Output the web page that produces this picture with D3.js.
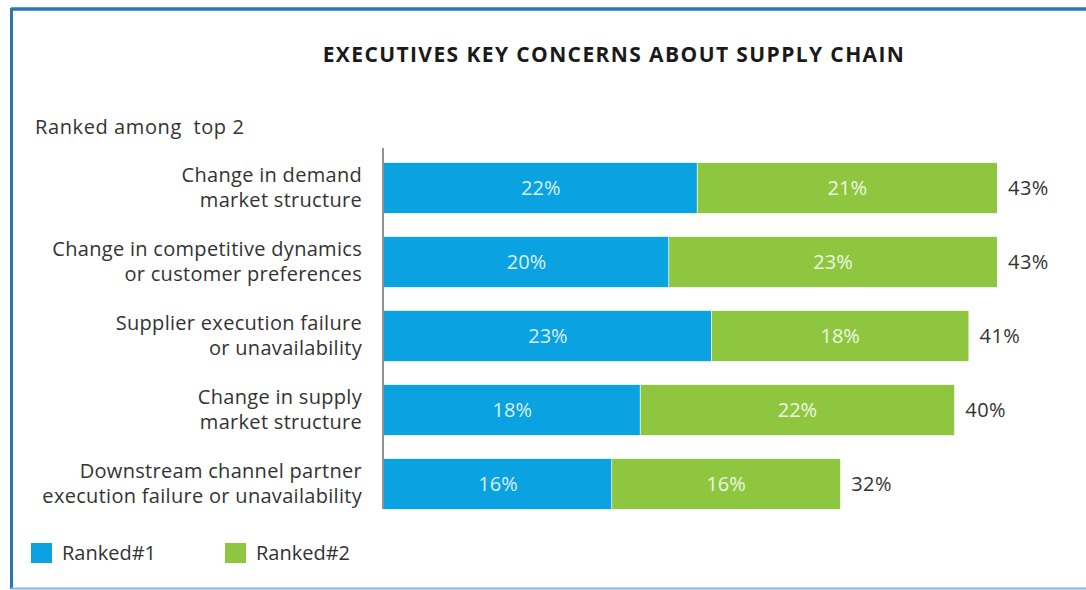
<!DOCTYPE html>
<html>
<head>
<meta charset="utf-8">
<script src="https://cdn.jsdelivr.net/npm/d3@7"></script>
<style>
  html, body { margin: 0; padding: 0; background: #fff; }
  svg { display: block; }
</style>
</head>
<body>
<svg id="chart" width="1086" height="590"></svg>
<script>
// Chart data
const categories = [
  ["Change in demand", "market structure"],
  ["Change in competitive dynamics", "or customer preferences"],
  ["Supplier execution failure", "or unavailability"],
  ["Change in supply", "market structure"],
  ["Downstream channel partner", "execution failure or unavailability"]
];
const ranked1 = [22, 20, 23, 18, 16];
const ranked2 = [21, 23, 18, 22, 16];
const totals = [43, 43, 41, 40, 32];
const seriesNames = ["Ranked#1", "Ranked#2"];

const colors = ["#0ba2e1", "#8fc640"];
const font = "'Open Sans', 'DejaVu Sans', sans-serif";

const svg = d3.select("#chart");
const W = 1086, H = 590;

// frame
svg.append("rect").attr("x", 0).attr("y", 0).attr("width", W).attr("height", H).attr("fill", "#fff");
svg.append("line").attr("x1", 11).attr("x2", W).attr("y1", 9).attr("y2", 9)
  .attr("stroke", "#2a78b3").attr("stroke-width", 3.5);
svg.append("line").attr("x1", 11.5).attr("x2", 11.5).attr("y1", 8).attr("y2", 589)
  .attr("stroke", "#2a78b3").attr("stroke-width", 3);
svg.append("line").attr("x1", 11).attr("x2", W).attr("y1", 588.5).attr("y2", 588.5)
  .attr("stroke", "#7fb9e3").attr("stroke-width", 2);

// title
svg.append("text")
  .attr("x", 614).attr("y", 62)
  .attr("text-anchor", "middle")
  .attr("font-family", font).attr("font-size", 21).attr("font-weight", "bold")
  .attr("letter-spacing", 1.4)
  .attr("fill", "#1a1a1a")
  .text("EXECUTIVES KEY CONCERNS ABOUT SUPPLY CHAIN");

svg.append("text")
  .attr("x", 35).attr("y", 134)
  .attr("font-family", font).attr("font-size", 20)
  .attr("letter-spacing", 0.6)
  .style("white-space", "pre")
  .attr("fill", "#333")
  .text("Ranked among  top 2");

// scales
const x0 = 384;
const x = d3.scaleLinear().domain([0, 43]).range([x0, 997]);
const y = d3.scaleBand().domain(d3.range(categories.length))
  .range([151, 521]).paddingInner(0.32).paddingOuter(0.16);

const stacked = categories.map((c, i) => ({ i, vals: [ranked1[i], ranked2[i]] }));

const rows = svg.append("g").selectAll("g").data(stacked).join("g");

// stacked segments
rows.each(function(d) {
  const g = d3.select(this);
  let acc = 0;
  d.vals.forEach((v, k) => {
    const a = acc, b = acc + v;
    g.append("rect")
      .attr("x", x(a)).attr("width", x(b) - x(a))
      .attr("y", y(d.i)).attr("height", y.bandwidth())
      .attr("fill", colors[k]);
    if (k === 0) {
      g.append("line")
        .attr("x1", x(b)).attr("x2", x(b))
        .attr("y1", y(d.i)).attr("y2", y(d.i) + y.bandwidth())
        .attr("stroke", "#fff").attr("stroke-width", 1.5);
    }
    g.append("text")
      .attr("x", (x(a) + x(b)) / 2)
      .attr("y", y(d.i) + y.bandwidth() / 2 + 7)
      .attr("text-anchor", "middle")
      .attr("font-family", font).attr("font-size", 20)
      .attr("fill", k === 0 ? "#d9f0fb" : "#eef7e2")
      .text(v + "%");
    acc = b;
  });
  // total label
  g.append("text")
    .attr("x", x(totals[d.i]) + 11)
    .attr("y", y(d.i) + y.bandwidth() / 2 + 7)
    .attr("font-family", font).attr("font-size", 20)
    .attr("letter-spacing", 0.5)
    .attr("fill", "#333")
    .text(totals[d.i] + "%");
});

// category labels
const labels = svg.append("g").selectAll("text").data(categories).join("text")
  .attr("text-anchor", "end")
  .attr("font-family", font).attr("font-size", 20)
  .attr("letter-spacing", 0.3)
  .attr("fill", "#333");
labels.each(function(lines, i) {
  const cy = y(i) + y.bandwidth() / 2;
  d3.select(this).selectAll("tspan").data(lines).join("tspan")
    .attr("x", 362)
    .attr("y", (l, j) => cy - 6 + j * 25)
    .text(l => l);
});

// vertical axis line
svg.append("line")
  .attr("x1", 383).attr("x2", 383).attr("y1", 148).attr("y2", 509)
  .attr("stroke", "#555").attr("stroke-width", 1.3);

// legend
const legend = svg.append("g").selectAll("g").data(seriesNames).join("g")
  .attr("transform", (d, i) => `translate(${i === 0 ? 31 : 225},543)`);
legend.append("rect").attr("width", 21).attr("height", 20)
  .attr("fill", (d, i) => colors[i]);
legend.append("text").attr("x", 31).attr("y", 17)
  .attr("font-family", font).attr("font-size", 20).attr("fill", "#333")
  .text(d => d);
</script>
</body>
</html>
